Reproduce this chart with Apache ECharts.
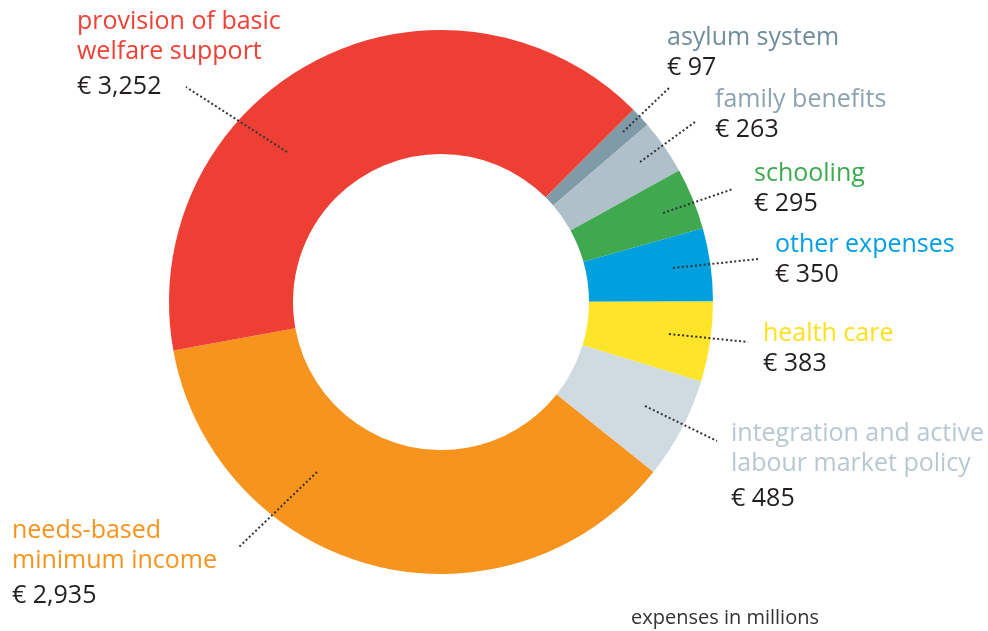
<!DOCTYPE html>
<html>
<head>
<meta charset="utf-8">
<script src="https://cdn.jsdelivr.net/npm/echarts@6/dist/echarts.min.js"></script>
<style>
html, body { margin: 0; padding: 0; background: #fff; }
#main { width: 988px; height: 631px; }
</style>
</head>
<body>
<div id="main"></div>
<script>
// data, clockwise from the top-right
var names = ['asylum system', 'family benefits', 'schooling', 'other expenses', 'health care',
    'integration and active\nlabour market policy', 'needs-based\nminimum income',
    'provision of basic\nwelfare support'];
var values = [97, 263, 295, 350, 383, 485, 2935, 3252];

// styling
var sliceColors = ['#7f9ba8', '#afc0cb', '#40a84f', '#00a0df', '#ffe529', '#d0dbe1', '#f7941e', '#ee3f35'];
var textColors = ['#6f8d9c', '#8ba3b1', '#3daa4d', '#009fe3', '#ffe01f', '#b8c8d3', '#f7941d', '#ef4136'];
var labelX = [667, 715, 754, 775, 763, 731, 12, 77];
var labelY = [23, 85, 159, 230, 319, 419, 516, 7];
var lineFrom = [[623, 132], [640, 162], [663, 213], [673, 268], [669, 334], [645, 406], [317, 472], [287, 152]];
var lineTo = [[669, 88], [695, 122], [733, 189], [758, 259], [748, 342], [717, 441], [239, 547], [186, 87]];

var FONT = '"Open Sans", sans-serif';

var rich = {
    v: { fontFamily: FONT, fontSize: 25, lineHeight: 30, color: '#231f20' },
    w: { fontFamily: FONT, fontSize: 25, lineHeight: 39, color: '#231f20' }
};
textColors.forEach(function (c, i) {
    rich['n' + i] = { fontFamily: FONT, fontSize: 25, lineHeight: 30, color: c };
});

var sliceData = names.map(function (n, i) {
    return { name: n, value: values[i], itemStyle: { color: sliceColors[i] } };
});
// same slices again, invisible, only to carry labels and leader lines above the ring
var labelData = names.map(function (n, i) {
    return { name: n, value: values[i] };
});

var myChart = echarts.init(document.getElementById('main'));
option = {
    animation: false,
    backgroundColor: '#fff',
    title: {
        text: 'expenses in millions',
        left: 631,
        top: 608,
        padding: 0,
        textStyle: { fontFamily: FONT, fontSize: 20, lineHeight: 20, fontWeight: 'normal', color: '#333' }
    },
    series: [
        {
            type: 'pie',
            center: [441, 302],
            radius: [148, 272],
            startAngle: 45,
            clockwise: true,
            itemStyle: { borderWidth: 0 },
            emphasis: { disabled: true },
            label: { show: false },
            labelLine: { show: false },
            data: sliceData
        },
        {
            type: 'pie',
            z: 5,
            silent: true,
            center: [441, 302],
            radius: [148, 272],
            startAngle: 45,
            clockwise: true,
            avoidLabelOverlap: false,
            itemStyle: { color: 'rgba(0,0,0,0)', borderWidth: 0 },
            emphasis: { disabled: true },
            label: {
                show: true,
                position: 'outside',
                fontFamily: FONT,
                formatter: function (p) {
                    var i = p.dataIndex;
                    var two = p.name.indexOf('\n') >= 0;
                    return '{n' + i + '|' + p.name + '}\n{' + (two ? 'w' : 'v') + '|€ ' +
                        p.value.toLocaleString('en-US') + '}';
                },
                rich: rich
            },
            labelLine: {
                show: true,
                showAbove: true,
                lineStyle: { color: '#333', width: 2, type: [2, 2.4] }
            },
            labelLayout: function (p) {
                var i = p.dataIndex;
                var a = lineFrom[i], b = lineTo[i];
                return {
                    x: labelX[i],
                    y: labelY[i],
                    align: 'left',
                    verticalAlign: 'top',
                    labelLinePoints: [a, [(a[0] + b[0]) / 2, (a[1] + b[1]) / 2], b]
                };
            },
            data: labelData
        }
    ]
};
myChart.setOption(option);
</script>
</body>
</html>
